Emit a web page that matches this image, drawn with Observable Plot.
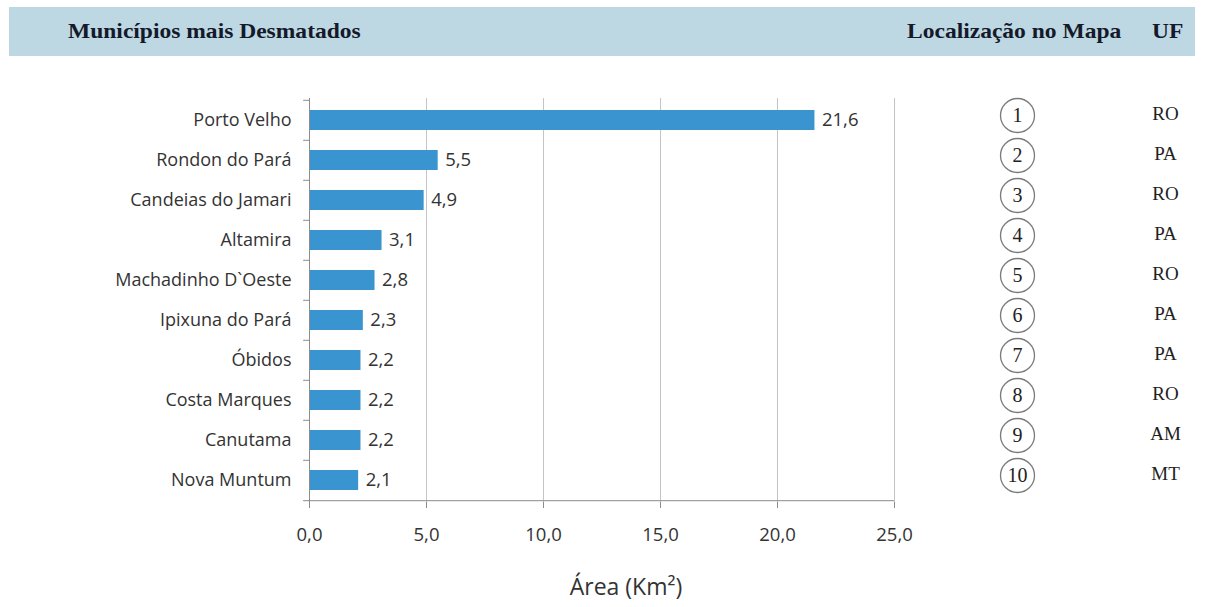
<!DOCTYPE html>
<html>
<head>
<meta charset="utf-8">
<script src="https://cdn.jsdelivr.net/npm/d3@7"></script>
<script src="https://cdn.jsdelivr.net/npm/@observablehq/plot@0.6"></script>
<style>
  html, body { margin: 0; padding: 0; background: #fff; }
  #wrap { position: relative; width: 1206px; height: 607px; }
  #band {
    position: absolute; left: 9px; top: 7px; width: 1186px; height: 49px;
    background: #bdd7e3;
    font-family: "Liberation Serif", "DejaVu Serif", serif; font-weight: bold;
    font-size: 21px; color: #141a2a;
  }
  #band span {
    position: absolute; top: 12px; white-space: nowrap;
    transform: scaleX(1.12); transform-origin: left center;
  }
  #chart { position: absolute; left: 0; top: 0; }
</style>
</head>
<body>
<div id="wrap">
  <div id="chart"></div>
  <div id="band">
    <span style="left:59px">Municípios mais Desmatados</span>
    <span style="left:898px">Localização no Mapa</span>
    <span style="left:1143px">UF</span>
  </div>
</div>
<script>
// Municipalities with the largest deforested area (km²)
const municipios = [
  "Porto Velho", "Rondon do Pará", "Candeias do Jamari", "Altamira",
  "Machadinho D`Oeste", "Ipixuna do Pará", "Óbidos", "Costa Marques",
  "Canutama", "Nova Muntum"
];
const areas = [21.6, 5.5, 4.9, 3.1, 2.8, 2.3, 2.2, 2.2, 2.2, 2.1];
const mapaNumeros = ["1", "2", "3", "4", "5", "6", "7", "8", "9", "10"];
const ufs = ["RO", "PA", "RO", "PA", "RO", "PA", "PA", "RO", "AM", "MT"];
const xTicks = [0, 5, 10, 15, 20, 25];

const rows = municipios.map((m, i) => ({
  municipio: m, area: areas[i], mapa: mapaNumeros[i], uf: ufs[i]
}));

const fmt = v => d3.format(".1f")(v).replace(".", ",");
const step = (502 - 98) / municipios.length;
const sans = "'Open Sans', Lato, sans-serif";
const serif = "'Liberation Serif', 'DejaVu Serif', serif";
const ink = "#333";

const chart = Plot.plot({
  width: 1206,
  height: 607,
  marginLeft: 309,
  marginRight: 312,
  marginTop: 98,
  marginBottom: 105,
  style: { fontFamily: sans, background: "transparent", overflow: "visible" },
  x: { domain: [0, 25] },
  y: { domain: municipios, paddingInner: 0.5, paddingOuter: 0.25 },
  marks: [
    // vertical gridlines
    Plot.ruleX(xTicks.slice(1), { stroke: "#c4c4c4", strokeWidth: 1 }),
    Plot.barX(rows, { x: "area", y: "municipio", fill: "#3a94cf" }),
    // category axis line and separators between categories
    Plot.ruleX([0], { stroke: "#8c8c8c", strokeWidth: 1 }),
    Plot.ruleY(rows, { y: "municipio", dy: -step / 2, x1: -0.25, x2: 0, stroke: "#8c8c8c" }),
    // baseline of the value axis
    Plot.ruleY(rows.slice(-1), { y: "municipio", dy: step / 2, x1: -0.25, x2: 25, stroke: "#8c8c8c" }),
    Plot.axisY({
      tickSize: 0, tickPadding: 18, fontSize: 18, color: ink, label: null
    }),
    Plot.axisX({
      ticks: xTicks, tickSize: 6, tickPadding: 19, fontSize: 18.5, color: ink,
      stroke: "#8c8c8c", tickFormat: fmt, label: null
    }),
    Plot.text(["Área (Km²)"], {
      frameAnchor: "bottom", dx: 24, dy: 92, fontSize: 23, fill: ink
    }),
    // value labels
    Plot.text(rows, {
      x: "area", y: "municipio", text: d => fmt(d.area),
      textAnchor: "start", dx: 7, fontSize: 18.5, fill: ink
    }),
    // map location markers and state codes
    Plot.dot(rows, {
      y: "municipio", frameAnchor: "right", dx: 123, dy: -5, r: 17,
      stroke: "#7a7a7a", strokeWidth: 1.3, fill: "white"
    }),
    Plot.text(rows, {
      y: "municipio", text: "mapa", frameAnchor: "right", textAnchor: "middle",
      dx: 123, dy: -5, fontSize: 20, fontFamily: serif, fill: "#222"
    }),
    Plot.text(rows, {
      y: "municipio", text: "uf", frameAnchor: "right", textAnchor: "middle",
      dx: 271, dy: -7, fontSize: 19, fontFamily: serif, fill: "#222"
    })
  ]
});

document.getElementById("chart").appendChild(chart);
</script>
</body>
</html>
